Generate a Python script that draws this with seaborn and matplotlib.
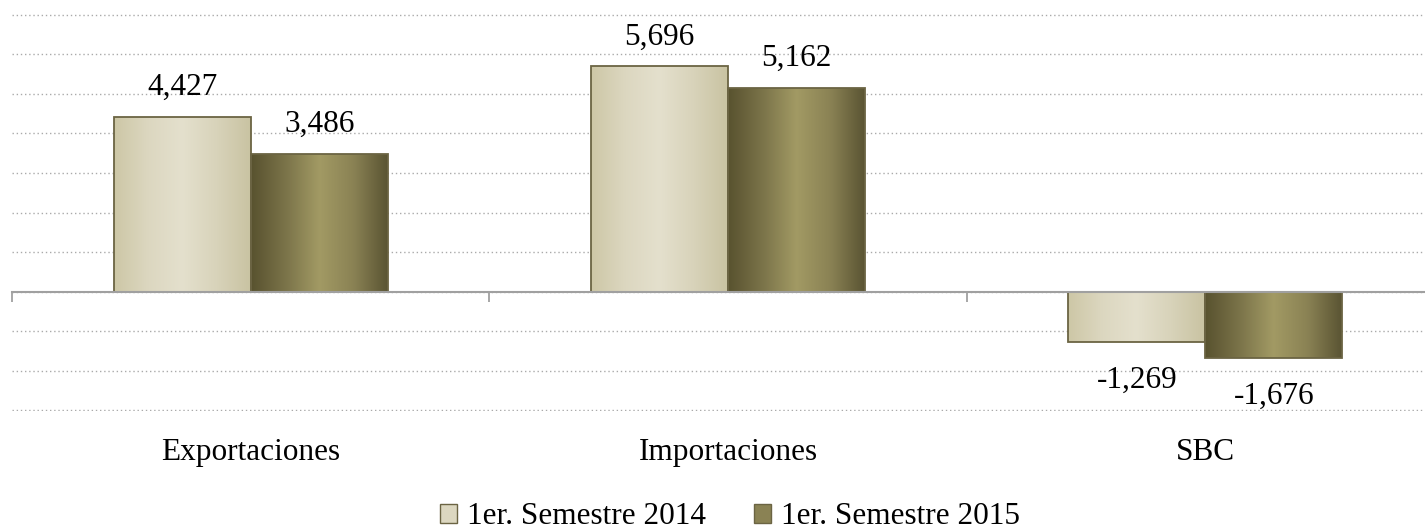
import numpy as np
import pandas as pd
import matplotlib
matplotlib.use('Agg')
import matplotlib.pyplot as plt
import matplotlib.transforms as mtransforms
from matplotlib.colors import LinearSegmentedColormap
from matplotlib.patches import Patch
import seaborn as sns

# datos
categorias = ['Exportaciones', 'Importaciones', 'SBC']
series = ['1er. Semestre 2014', '1er. Semestre 2015']
valores_2014 = [4427, 5696, -1269]
valores_2015 = [3486, 5162, -1676]
etiquetas_2014 = ['4,427', '5,696', '-1,269']
etiquetas_2015 = ['3,486', '5,162', '-1,676']

df = pd.DataFrame({
    'categoria': categorias * 2,
    'serie': [series[0]] * 3 + [series[1]] * 3,
    'valor': valores_2014 + valores_2015,
})

sns.set_style('white')
plt.rcParams['font.family'] = ['Liberation Serif', 'DejaVu Serif']
plt.rcParams['text.color'] = 'black'

# degradados horizontales de las barras
grad_claro = LinearSegmentedColormap.from_list(
    'claro', ['#cdc7a6', '#dcd7c0', '#e4e0cd', '#d8d3ba', '#c9c3a2'])
grad_oscuro = LinearSegmentedColormap.from_list(
    'oscuro', ['#58522f', '#7a7349', '#a29a64', '#8a8254', '#5a5433'])
colores_borde = '#6b6443'

fig = plt.figure(figsize=(14.25, 5.32), dpi=100)
# eje: de -3000 a 7000 entre y=410 y y=15 px
ax = fig.add_axes([12 / 1425, 1 - 411 / 532, 1432 / 1425, 397 / 532])

sns.barplot(data=df, x='categoria', y='valor', hue='serie', order=categorias,
            hue_order=series, width=0.574, gap=0, legend=False, ax=ax,
            palette=['#d9d4bb', '#8a8258'], saturation=1)

# relleno con degradado recortado a cada barra
n = len(categorias)
for i, p in enumerate(ax.patches):
    cmap = grad_claro if i < n else grad_oscuro
    x0, w = p.get_x(), p.get_width()
    y0, h = p.get_y(), p.get_height()
    img = ax.imshow(np.linspace(0, 1, 256).reshape(1, -1), cmap=cmap,
                    extent=[x0, x0 + w, min(y0, y0 + h), max(y0, y0 + h)],
                    aspect='auto', zorder=2, interpolation='bicubic')
    img.set_clip_path(p)
    p.set_facecolor('none')
    p.set_edgecolor(colores_borde)
    p.set_linewidth(1.3)
    p.set_zorder(3)

ax.set_xlim(-0.5, 2.5)
ax.set_ylim(-3025, 7025)
ax.set_yticks(range(-3000, 7001, 1000))
ax.set_yticklabels([])
ax.tick_params(axis='y', length=0)
ax.yaxis.grid(True, linestyle=(0, (1, 2)), color='#aaaaaa', linewidth=1)
ax.set_axisbelow(True)

for s in ['top', 'left', 'right']:
    ax.spines[s].set_visible(False)
ax.spines['bottom'].set_position(('data', 0))
ax.spines['bottom'].set_color('#a0a0a0')
ax.spines['bottom'].set_linewidth(1.5)
ax.spines['bottom'].set_zorder(4)

ax.set_xticks([0, 1, 2])
ax.set_xticklabels([])
ax.set_xticks([-0.5, 0.5, 1.5, 2.5], minor=True)
ax.tick_params(axis='x', which='major', length=0)
ax.tick_params(axis='x', which='minor', bottom=True, length=7, width=1.3,
               color='#a0a0a0', direction='out')
ax.set_xlabel('')
ax.set_ylabel('')

# nombres de categorias
trans = mtransforms.blended_transform_factory(ax.transData, ax.transAxes)
for i, c in enumerate(categorias):
    ax.text(i, -0.104, c, transform=trans, ha='center', va='center', fontsize=22.5)

# etiquetas de valores
todas = etiquetas_2014 + etiquetas_2015
for p, lab in zip(ax.patches, todas):
    xc = p.get_x() + p.get_width() / 2
    v = p.get_y() + p.get_height()
    off = 21 if v >= 0 else -28
    ax.annotate(lab, (xc, v), xytext=(0, off), textcoords='offset points',
                ha='center', va='center', fontsize=22.5)

handles = [Patch(facecolor='#dcd7c0', edgecolor=colores_borde, label=series[0]),
           Patch(facecolor='#8a8254', edgecolor=colores_borde, label=series[1])]
fig.legend(handles=handles, loc='center', bbox_to_anchor=(730 / 1425, 1 - 517 / 532),
           ncol=2, frameon=False, fontsize=22.5, handlelength=0.55, handleheight=0.55,
           handletextpad=0.3, columnspacing=1.55, borderpad=0)

fig.savefig('out.png', dpi=100)
